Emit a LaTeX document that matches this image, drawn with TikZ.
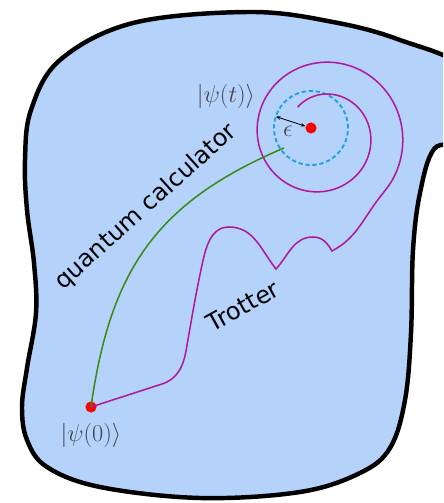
\documentclass[tikz,border=0pt]{standalone}
\usepackage{amsmath,amssymb}
\usepackage{fontspec}
\setsansfont{DejaVu Sans}
\usetikzlibrary{calc,arrows.meta,positioning}
\definecolor{hilbFill}{HTML}{B4D2FA}
\definecolor{hilbTrotter}{HTML}{B0189E}
\definecolor{hilbQuantum}{HTML}{3A8A1A}
\definecolor{hilbEps}{HTML}{1BA1E2}
\definecolor{hilbLabel}{HTML}{44444F}

\begin{document}
\begin{tikzpicture}[
    x=0.03cm, y=0.03cm,
    >=Stealth,
    every node/.style={font=\fontsize{20}{24}\selectfont},
    dot/.style={circle,fill=red,inner sep=0pt,minimum size=9.5pt},
    ketlabel/.style={text=hilbLabel,inner sep=0pt},
    pathlabel/.style={font=\sffamily\fontsize{20.5}{24}\selectfont,inner sep=0pt},
    trotter/.style={hilbTrotter,line width=1.3pt},
    quantum/.style={hilbQuantum,line width=1.3pt},
  ]
  \useasboundingbox (0,0) rectangle (443,503);
  \clip (0,0) rectangle (443,503);

  % Hilbert space blob
  \draw[fill=hilbFill,line width=3.8pt] plot[smooth cycle,tension=0.6] coordinates {
    (250,491) (333,481) (400,463) (465,432) (462,366) (434,354)
    (420,310) (413,253) (411,170) (405,103) (390,55) (360,30)
    (300,11) (200,5) (100,16) (47,36) (27,63) (22,96) (27,135)
    (36,190) (34,240) (27,293) (25,343) (31,393) (60,443) (133,480)};

  % Start and target states
  \node[dot] (psi0) at (91,96) {};
  \node[dot] (psit) at (311,375) {};
  \node[ketlabel,below=0.3cm of psi0] (ket0) {$|\psi(0)\rangle$};
  \node[ketlabel] (kett) at (226,407) {$|\psi(t)\rangle$};

  % Epsilon ball
  \draw[hilbEps,line width=1.6pt,dash pattern=on 3.6pt off 2.4pt] (psit.center) circle (37);
  \coordinate (rim) at ($(psit.center)+(162:37)$);
  \draw[{Stealth[length=4pt]}-{Stealth[length=4pt]},line width=0.7pt] (rim) -- (psit);
  \node[ketlabel] (eps) at (288,372) {$\epsilon$};

  % Trotter path with spiral round the target
  \coordinate (join) at (397.1,333.0);
  \draw[trotter] (psi0.center) to[out=18,in=198] (162,119)
    to[out=18,in=-100] (186,152)
    to[out=80,in=-102] (202,238)
    to[out=78,in=180] (229,276)
    to[out=0,in=128] (276,234)
    to[out=48,in=180] (313,266)
    to[out=0,in=120] (332,252)
    to[out=28,in=232] (380,306)
    to[out=52,in=248.5] (join);
  \draw[trotter] plot[domain=131:-385,samples=160,variable=\t]
    ({322+(41+(86-\t)*0.0889)*cos(\t)}, {368+(41+(86-\t)*0.0889)*sin(\t)});

  % Quantum calculator path
  \coordinate (qcend) at (284,355);
  \draw[quantum] (psi0.center) to[out=82,in=203,looseness=1.1] (qcend);

  \node[pathlabel,rotate=42] (qclabel) at (146,296) {quantum calculator};
  \node[pathlabel,rotate=29] (trlabel) at (243,197) {Trotter};
\end{tikzpicture}
\end{document}
